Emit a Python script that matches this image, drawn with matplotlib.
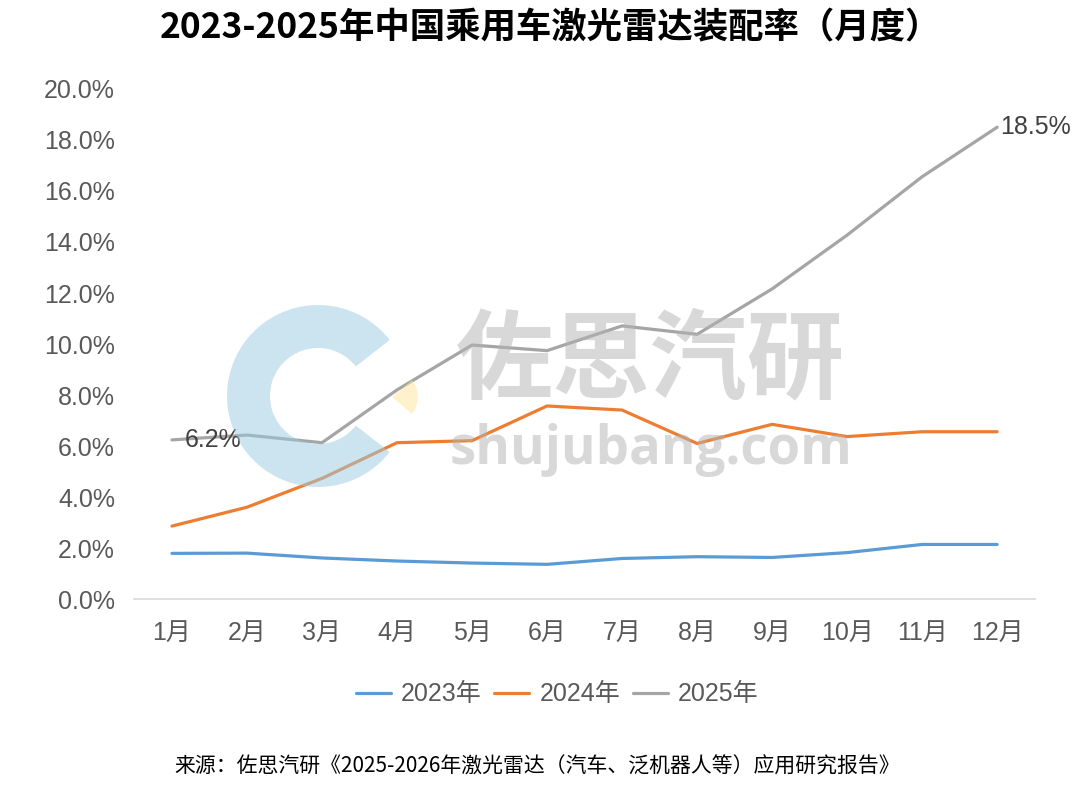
import matplotlib
matplotlib.use("Agg")
import matplotlib.pyplot as plt
from matplotlib.patches import Wedge
from matplotlib.ticker import FuncFormatter

plt.rcParams['font.family'] = ['Liberation Sans', 'Noto Sans CJK SC', 'DejaVu Sans']

months = ['1月', '2月', '3月', '4月', '5月', '6月', '7月', '8月', '9月', '10月', '11月', '12月']
rate_2023 = [1.79, 1.80, 1.61, 1.49, 1.41, 1.36, 1.59, 1.66, 1.63, 1.82, 2.14, 2.14]
rate_2024 = [2.86, 3.60, 4.73, 6.13, 6.21, 7.57, 7.41, 6.10, 6.85, 6.37, 6.56, 6.56]
rate_2025 = [6.24, 6.43, 6.13, 8.20, 9.96, 9.74, 10.71, 10.38, 12.16, 14.27, 16.56, 18.50]
series_names = ['2023年', '2024年', '2025年']
colors = ['#5B9BD5', '#ED7D31', '#A5A5A5']

title = '2023-2025年中国乘用车激光雷达装配率（月度）'
source = '来源：佐思汽研《2025-2026年激光雷达（汽车、泛机器人等）应用研究报告》'

fig = plt.figure(figsize=(10.8, 7.91), dpi=100)
ax = fig.add_axes([0.1245, 0.2427, 0.8335, 0.6448])

x = list(range(len(months)))
for vals, name, c in zip([rate_2023, rate_2024, rate_2025], series_names, colors):
    ax.plot(x, vals, color=c, lw=2.3, label=name, solid_capstyle='round', zorder=3)

# data labels on 2025 series
ax.annotate('6.2%', (0, rate_2025[0]), xytext=(9, 0), textcoords='offset points',
            ha='left', va='center', fontsize=18, color='#404040', zorder=4)
ax.annotate('18.5%', (11, rate_2025[11]), xytext=(2, 0), textcoords='offset points',
            ha='left', va='center', fontsize=18, color='#404040', zorder=4)

ax.set_xlim(-0.5, 11.5)
ax.set_ylim(0, 20)
ax.set_yticks(range(0, 21, 2))
ax.yaxis.set_major_formatter(FuncFormatter(lambda v, p: f'{v:.1f}%'))
ax.set_xticks(x)
ax.set_xticklabels(months)
ax.tick_params(axis='y', length=0, pad=14, labelsize=18, labelcolor='#595959')
ax.tick_params(axis='x', length=0, pad=16, labelsize=18, labelcolor='#595959')
for s in ['top', 'right', 'left']:
    ax.spines[s].set_visible(False)
ax.spines['bottom'].set_color('#D9D9D9')
ax.spines['bottom'].set_linewidth(1.2)

leg = fig.legend(loc='center', bbox_to_anchor=(0.516, 0.122), ncol=3, frameon=False,
                 fontsize=18, handlelength=1.4, handletextpad=0.4, columnspacing=0.5)
for t in leg.get_texts():
    t.set_color('#595959')

fig.text(0.51, 1 - 28 / 791, title, ha='center', va='center', fontsize=25.5,
         fontweight='bold', family=['Noto Sans CJK SC', 'DejaVu Sans'], color='black')
fig.text(0.497, 1 - 767 / 791, source, ha='center', va='center', fontsize=15,
         family=['Noto Sans CJK SC', 'DejaVu Sans'], color='black')

# watermark overlay in pixel coordinates
wm = fig.add_axes([0, 0, 1, 1], zorder=5)
wm.set_xlim(0, 1080)
wm.set_ylim(791, 0)
wm.axis('off')
wm.patch.set_alpha(0)
wm.add_patch(Wedge((318, 396), 91, 38, 322, width=43, facecolor='#99CBE1', alpha=0.5, lw=0))
wm.add_patch(Wedge((392, 397), 26, -40, 40, facecolor='#FFE599', alpha=0.5, lw=0))
wm.text(650, 362, '佐思汽研', ha='center', va='center', fontsize=70, fontweight='bold',
        family=['Noto Sans CJK SC'], color='#B3B3B3', alpha=0.5)
wm.text(651, 450, 'shujubang.com', ha='center', va='center', fontsize=38, fontweight='bold',
        family=['Open Sans'], color='#B3B3B3', alpha=0.5)

fig.savefig('out.png', dpi=100)
